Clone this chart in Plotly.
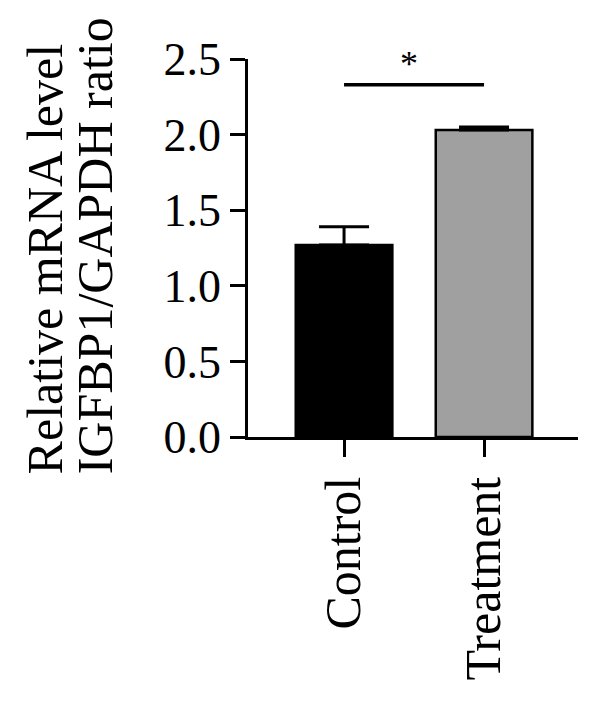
import plotly.graph_objects as go

categories = ["Control", "Treatment"]
means = [1.27, 2.03]
errors = [0.12, 0.02]
bar_colors = ["#000000", "#a0a0a0"]
y_ticks = [0.0, 0.5, 1.0, 1.5, 2.0, 2.5]
y_tick_labels = ["0.0", "0.5", "1.0", "1.5", "2.0", "2.5"]
sig_y = 2.33
sig_text = "*"
title_lines = ["Relative mRNA level", "IGFBP1/GAPDH ratio"]

FONT = "Liberation Serif"
xpos = list(range(len(categories)))

fig = go.Figure()
fig.add_trace(go.Bar(
    x=xpos, y=means, width=0.69,
    marker=dict(color=bar_colors, line=dict(color="#000000", width=2.5)),
    error_y=dict(type="data", array=errors, arrayminus=[0, 0], symmetric=False,
                 color="#000000", thickness=3, width=25),
))

# significance bar
fig.add_shape(type="line", xref="x", yref="y", x0=xpos[0], x1=xpos[1], y0=sig_y, y1=sig_y,
              line=dict(color="#000000", width=3.5))
fig.add_annotation(x=(xpos[0] + xpos[1]) / 2 - 0.036, y=2.47, xref="x", yref="y", text=sig_text,
                   showarrow=False, font=dict(family=FONT, size=36, color="#000"))

# y-axis title lines
fig.add_annotation(x=-0.615, y=0.47, xref="paper", yref="paper", text=title_lines[0],
                   xanchor="center", yanchor="middle",
                   textangle=-90, showarrow=False, font=dict(family=FONT, size=50, color="#000"))
fig.add_annotation(x=-0.463, y=0.505, xref="paper", yref="paper", text=title_lines[1],
                   xanchor="center", yanchor="middle",
                   textangle=-90, showarrow=False, font=dict(family=FONT, size=50, color="#000"))

fig.update_layout(
    width=600, height=712, autosize=False,
    margin=dict(l=248, r=22, t=59, b=275),
    paper_bgcolor="white", plot_bgcolor="white",
    showlegend=False,
    font=dict(family=FONT, color="#000"),
    xaxis=dict(
        range=[-0.686, 1.671], tickmode="array", tickvals=xpos, ticktext=categories,
        tickangle=-90, ticks="outside", ticklen=17, tickwidth=2.5, tickcolor="#000",
        showline=True, linecolor="#000", linewidth=2.5, showgrid=False, zeroline=False,
        tickfont=dict(family=FONT, size=50, color="#000"), ticklabelstandoff=0,
    ),
    yaxis=dict(
        range=[0, 2.5], tickmode="array", tickvals=y_ticks, ticktext=y_tick_labels,
        ticksuffix="\u2002",
        ticks="outside", ticklen=15, tickwidth=2.5, tickcolor="#000",
        showline=True, linecolor="#000", linewidth=2.5, showgrid=False, zeroline=False,
        tickfont=dict(family=FONT, size=46, color="#000"),
    ),
)

fig.write_html("out.html")
